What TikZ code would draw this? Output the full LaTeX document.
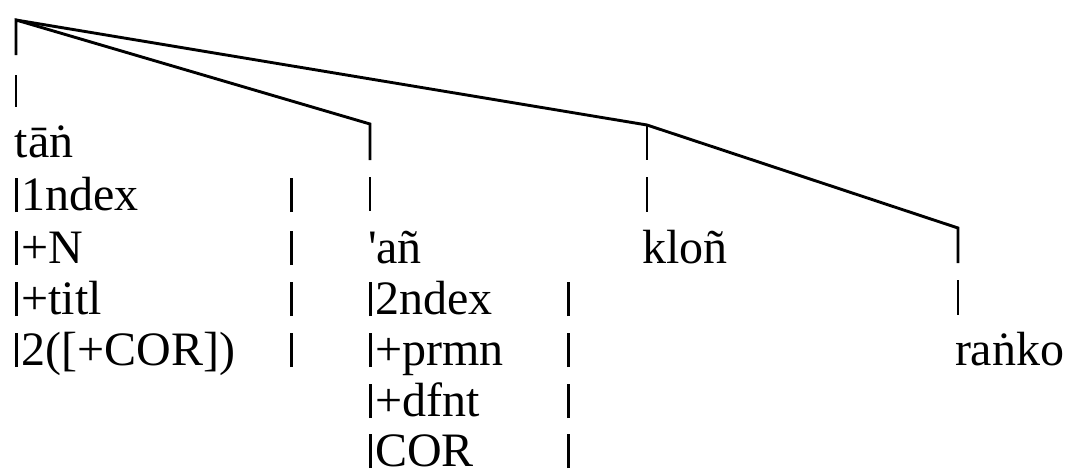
\documentclass[tikz,border=0pt]{standalone}
\usepackage{fontspec}
\setmainfont{Liberation Serif}
\newcommand{\vb}{\rule[-2pt]{2.8pt}{34pt}}
\newcommand{\lb}{\vb\hspace{3.5pt}}
\begin{document}
\begin{tikzpicture}[x=1pt,y=-1pt,
  lbl/.style={anchor=base west,inner sep=0pt,outer sep=0pt,font=\fontsize{48}{52}\selectfont},
  branch/.style={draw=black,line width=2.9pt,line join=miter,line cap=butt},
  tick/.style={draw=black,line width=2.8pt}]
\useasboundingbox (0,0) rectangle (1077,469);
% tree points
\coordinate (root) at (16,20);
\coordinate (atop) at (370,124);
\coordinate (ktop) at (647,125);
\coordinate (rtop) at (958,228);
\coordinate (rootend) at (16,55);
\coordinate (aend) at (370,160);
\coordinate (kend) at (647,160);
\coordinate (rend) at (958,263);
\coordinate (rootd1) at (16,75);  \coordinate (rootd2) at (16,107);
\coordinate (ad1) at (370,177);   \coordinate (ad2) at (370,211);
\coordinate (kd1) at (647,177);   \coordinate (kd2) at (647,212);
\coordinate (rd1) at (958,280);   \coordinate (rd2) at (958,315);
% connectors
\draw[branch] (rootend) -- (root) -- (atop) -- (aend);
\draw[branch] (root) -- (ktop) -- (rtop) -- (rend);
\draw[branch] (ktop) -- (kend);
\draw[tick] (rootd1) -- (rootd2);
\draw[tick] (ad1) -- (ad2);
\draw[tick] (kd1) -- (kd2);
\draw[tick] (rd1) -- (rd2);
% column 1
\node[lbl] (tan) at (15,157) {tāṅ};
\node[lbl] (c1a) at (15,210) {\lb 1ndex};
\node[lbl] (c1b) at (15,263) {\lb +N};
\node[lbl] (c1c) at (15,314) {\lb +titl};
\node[lbl] (c1d) at (15,365) {\lb 2([+COR])};
\node[lbl] (r1a) at (290,210) {\vb};
\node[lbl] (r1b) at (290,263) {\vb};
\node[lbl] (r1c) at (290,314) {\vb};
\node[lbl] (r1d) at (290,365) {\vb};
% column 2
\node[lbl] (an) at (368,263) {\textquotesingle añ};
\node[lbl] (c2a) at (369,314) {\lb 2ndex};
\node[lbl] (c2b) at (369,365) {\lb +prmn};
\node[lbl] (c2c) at (369,416) {\lb +dfnt};
\node[lbl] (c2d) at (369,466) {\lb COR};
\node[lbl] (r2a) at (567,314) {\vb};
\node[lbl] (r2b) at (567,365) {\vb};
\node[lbl] (r2c) at (567,416) {\vb};
\node[lbl] (r2d) at (567,466) {\vb};
% other leaves
\node[lbl] (klon) at (642,263) {kloñ};
\node[lbl] (ranko) at (955,365) {raṅko};
\end{tikzpicture}
\end{document}
